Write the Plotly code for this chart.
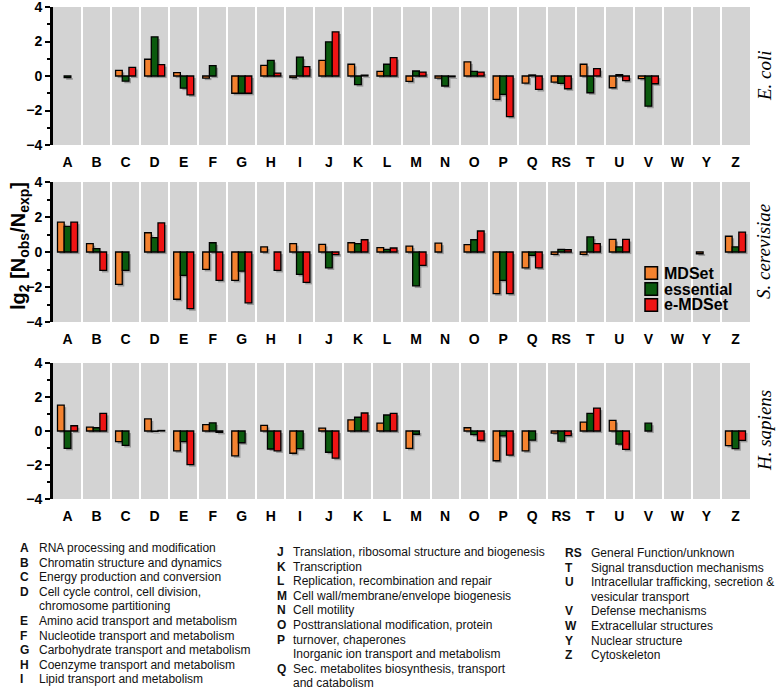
import plotly.graph_objects as go

W, H = 778, 689

categories = ["A", "B", "C", "D", "E", "F", "G", "H", "I", "J", "K", "L",
              "M", "N", "O", "P", "Q", "RS", "T", "U", "V", "W", "Y", "Z"]

species = ["E. coli", "S. cerevisiae", "H. sapiens"]
series_names = ["MDSet", "essential", "e-MDSet"]
series_colors = ["#f4822f", "#0b5a0e", "#ee1414"]

ecoli_mdset = [None, None, 0.33, 0.97, 0.2, -0.12, -1.0, 0.62, -0.1, 0.91, 0.68, 0.27,
               -0.31, -0.12, 0.82, -1.36, -0.41, -0.35, 0.68, -0.68, -0.15, None, None, None]
ecoli_essential = [-0.1, None, -0.3, 2.27, -0.7, 0.6, -1.0, 0.91, 1.1, 1.98, -0.5, 0.68,
                   0.29, -0.58, 0.27, -1.07, 0.06, -0.43, -0.97, 0.08, -1.75, None, None, None]
ecoli_emdset = [None, None, 0.5, 0.66, -1.09, None, -1.0, 0.17, 0.54, 2.56, 0.05, 1.07,
                0.23, -0.05, 0.23, -2.35, -0.78, -0.74, 0.43, -0.27, -0.45, None, None, None]

scer_mdset = [1.71, 0.48, -1.85, 1.1, -2.7, -0.99, -1.62, 0.29, 0.48, 0.44, 0.53, 0.25,
              0.34, 0.51, 0.42, -2.38, -0.91, -0.13, -0.13, 0.72, None, None, -0.1, 0.9]
scer_essential = [1.47, 0.19, -1.05, 0.82, -1.33, 0.53, -1.09, None, -1.28, -0.91, 0.48, 0.15,
                  -1.94, None, 0.7, -1.62, -0.19, 0.15, 0.86, 0.29, None, None, None, 0.29]
scer_emdset = [1.71, -1.05, None, 1.66, -3.24, -1.62, -2.91, -1.05, -1.73, -0.15, 0.7, 0.23,
               -0.76, None, 1.2, -2.38, -0.91, 0.13, 0.48, 0.72, None, None, None, 1.14]

hsap_mdset = [1.52, 0.23, -0.63, 0.71, -1.17, 0.38, -1.46, 0.33, -1.31, 0.17, 0.65, 0.46,
              -1.02, None, 0.19, -1.75, -1.17, -0.12, 0.52, 0.62, None, None, None, -0.86]
hsap_essential = [-1.02, 0.19, -0.85, -0.03, -0.63, 0.48, -0.69, -1.06, -1.04, -1.25, 0.81, 0.94,
                  -0.19, None, -0.21, -0.29, -0.54, -0.6, 1.04, -0.77, 0.46, None, None, -1.04]
hsap_emdset = [0.31, 1.04, None, 0.03, -1.98, -0.08, None, -1.17, None, -1.6, 1.06, 1.04,
               None, None, -0.56, -1.42, None, -0.27, 1.35, -1.08, None, None, None, -0.55]

panel_data = [
    [ecoli_mdset, ecoli_essential, ecoli_emdset],
    [scer_mdset, scer_essential, scer_emdset],
    [hsap_mdset, hsap_essential, hsap_emdset],
]

y_ticks = [-4, -2, 0, 2, 4]
y_minor = [-3, -1, 1, 3]

# category description columns: (code, text) ; empty code = continuation line
desc_col1 = [("A", "RNA processing and modification"),
             ("B", "Chromatin structure and dynamics"),
             ("C", "Energy production and conversion"),
             ("D", "Cell cycle control, cell division,"),
             ("", "chromosome partitioning"),
             ("E", "Amino acid transport and metabolism"),
             ("F", "Nucleotide transport and metabolism"),
             ("G", "Carbohydrate transport and metabolism"),
             ("H", "Coenzyme transport and metabolism"),
             ("I", "Lipid transport and metabolism")]
desc_col2 = [("J", "Translation, ribosomal structure and biogenesis"),
             ("K", "Transcription"),
             ("L", "Replication, recombination and repair"),
             ("M", "Cell wall/membrane/envelope biogenesis"),
             ("N", "Cell motility"),
             ("O", "Posttranslational modification, protein"),
             ("P", "turnover, chaperones"),
             ("", "Inorganic ion transport and metabolism"),
             ("Q", "Sec. metabolites biosynthesis, transport"),
             ("", "and catabolism")]
desc_col3 = [("RS", "General Function/unknown"),
             ("T", "Signal transduction mechanisms"),
             ("U", "Intracellular trafficking, secretion &"),
             ("", "vesicular transport"),
             ("V", "Defense mechanisms"),
             ("W", "Extracellular structures"),
             ("Y", "Nuclear structure"),
             ("Z", "Cytoskeleton")]

# ---------------- layout geometry (pixels) ----------------
plot_x0, plot_x1 = 53, 750
panel_px = [(7, 145), (182, 322), (363, 499)]
bar_w = 0.23
bar_offsets = [-0.345, -0.115, 0.115]
shadow_dx, shadow_dy = 0.07, 0.12

def px_x(x):
    return x / W

def px_y(y):
    return 1 - y / H

fig = go.Figure()

for i, vals_list in enumerate(panel_data):
    suffix = "" if i == 0 else str(i + 1)
    # soft drop shadows first
    for name, vals, off in zip(series_names, vals_list, bar_offsets):
        fig.add_trace(go.Bar(
            x=categories, y=vals, base=-shadow_dy, width=bar_w, offset=off + shadow_dx,
            marker=dict(color="rgba(0,0,0,0.28)", line=dict(width=0)),
            xaxis="x" + suffix, yaxis="y" + suffix, showlegend=False, hoverinfo="skip",
        ))
    for name, vals, color, off in zip(series_names, vals_list, series_colors, bar_offsets):
        fig.add_trace(go.Bar(
            x=categories, y=vals, name=name, width=bar_w, offset=off,
            marker=dict(color=color, line=dict(color="black", width=1.3)),
            xaxis="x" + suffix, yaxis="y" + suffix,
            legendgroup=name, showlegend=False,
        ))

layout = dict(
    width=W, height=H, autosize=False,
    margin=dict(l=0, r=0, t=0, b=0, autoexpand=False),
    paper_bgcolor="white", plot_bgcolor="#d3d3d3",
    barmode="overlay",
    font=dict(family="Liberation Sans, Arial, sans-serif", color="black"),
    showlegend=False,
)

for i, (t, b) in enumerate(panel_px):
    suffix = "" if i == 0 else str(i + 1)
    layout["xaxis" + suffix] = dict(
        domain=[px_x(plot_x0), px_x(plot_x1)], anchor="y" + suffix,
        type="category", categoryorder="array", categoryarray=categories,
        range=[-0.5, len(categories) - 0.5],
        tickson="boundaries", showgrid=True, gridcolor="white", gridwidth=2,
        ticks="", ticklen=0, showline=False, zeroline=False,
        tickfont=dict(size=14, weight="bold"), ticklabelstandoff=7,
        fixedrange=True,
    )
    layout["yaxis" + suffix] = dict(
        domain=[px_y(b), px_y(t)], anchor="x" + suffix,
        range=[-4, 4], tickvals=y_ticks, ticks="outside", ticklen=5, tickwidth=2,
        tickcolor="black", showline=True, linewidth=3, linecolor="black",
        showgrid=False, zeroline=False, ticklabeloverflow="allow",
        minor=dict(tickvals=y_minor, ticks="outside", ticklen=3, tickwidth=2, tickcolor="black"),
        tickfont=dict(size=14, weight="bold"), fixedrange=True,
    )

annotations = []
shapes = []
# y-axis title
annotations.append(dict(
    text="lg<sub>2</sub> [N<sub>obs</sub>/N<sub>exp</sub>]", textangle=-90,
    x=px_x(20), y=px_y(246),
    xref="paper", yref="paper", showarrow=False, xanchor="center", yanchor="middle",
    font=dict(size=20, weight="bold"),
))
# species labels
for i, (t, b) in enumerate(panel_px):
    annotations.append(dict(
        text=species[i], textangle=-90,
        x=px_x(764), y=px_y((t + b) / 2), xref="paper", yref="paper",
        showarrow=False, xanchor="center", yanchor="middle",
        font=dict(size=19, style="italic", family="Liberation Serif, serif"),
    ))

# legend (inside middle panel)
leg_x, leg_y0, leg_dy, leg_sq = 645, 273, 16, 12.5
for k, (name, color) in enumerate(zip(series_names, series_colors)):
    cy = leg_y0 + k * leg_dy
    shapes.append(dict(
        type="rect", xref="paper", yref="paper",
        x0=px_x(leg_x), x1=px_x(leg_x + leg_sq),
        y0=px_y(cy + leg_sq / 2), y1=px_y(cy - leg_sq / 2),
        fillcolor=color, line=dict(color="black", width=1.5),
    ))
    annotations.append(dict(
        text=name, x=px_x(leg_x + leg_sq + 4), y=px_y(cy), xref="paper", yref="paper",
        showarrow=False, xanchor="left", yanchor="middle",
        font=dict(size=16, weight="bold"),
    ))

# description columns
col_specs = [(desc_col1, 18, 37, 548), (desc_col2, 275, 291, 552), (desc_col3, 563, 589, 553)]
row_h = 14.6
for col, xc, xt, y0 in col_specs:
    for r, (code, txt) in enumerate(col):
        yy = y0 + r * row_h
        if code:
            annotations.append(dict(
                text=code, x=px_x(xc), y=px_y(yy), xref="paper", yref="paper",
                showarrow=False, xanchor="left", yanchor="middle",
                font=dict(size=12, weight="bold", color="#111"),
            ))
        annotations.append(dict(
            text=txt, x=px_x(xt), y=px_y(yy), xref="paper", yref="paper",
            showarrow=False, xanchor="left", yanchor="middle",
            font=dict(size=12, color="#111"),
        ))

layout["annotations"] = annotations
layout["shapes"] = shapes
fig.update_layout(**layout)

fig.write_html(
    "out.html",
    config={"displayModeBar": False},
    post_script="document.body.style.margin='0';document.body.style.overflow='hidden';",
)
